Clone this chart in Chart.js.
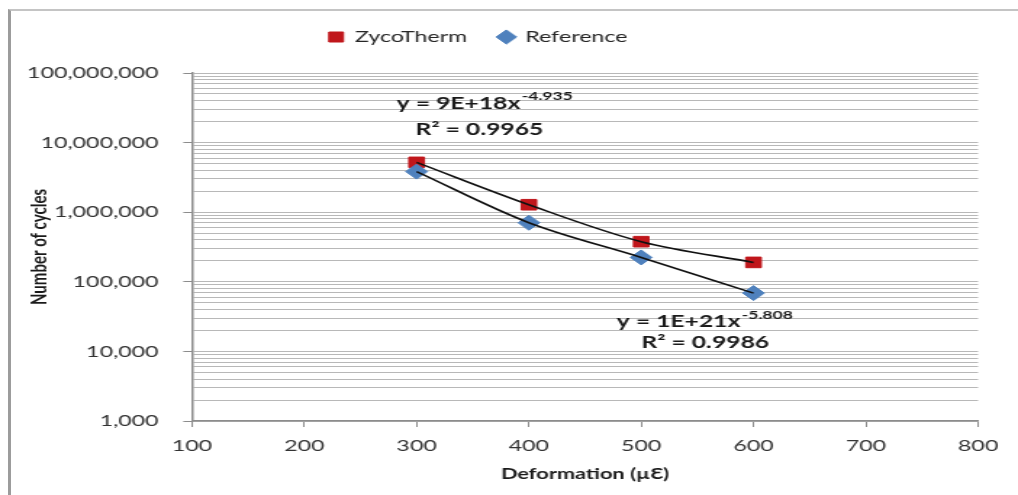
<!DOCTYPE html>
<html>
<head>
<meta charset="utf-8">
<title>Number of cycles vs deformation</title>
<script src="https://cdn.jsdelivr.net/npm/chart.js@4.4.1/dist/chart.umd.min.js"></script>
<style>
html, body { margin: 0; padding: 0; background: #fff; }
#wrap { position: relative; width: 1018px; height: 495px; overflow: hidden; }
#frame { position: absolute; left: 8px; top: 9px; width: 1100px; height: 600px;
         border-left: 3px solid #9c9c9c; border-top: 2px solid #c4c4c4; }
/* the source picture is stretched sideways, so the canvas is drawn narrow and scaled up */
#chart { position: absolute; left: 0; top: 0; width: 1018px !important; height: 495px !important; }
</style>
</head>
<body>
<div id="wrap">
  <div id="frame"></div>
  <canvas id="chart" width="702" height="495" style="width:1018px;height:495px"></canvas>
</div>
<script>
// DATA
var deformation = [300, 400, 500, 600];
var zycoCycles = [5200000, 1280000, 377000, 190000];
var refCycles = [3830000, 706000, 224000, 68800];

var xTicks = [100, 200, 300, 400, 500, 600, 700, 800];
var yMajor = [1000, 10000, 100000, 1000000, 10000000, 100000000];

// trendline equations (text + where they sit, in data units)
var eqText = ['y = 9E+18x', 'R\u00B2 = 0.9965', 'y = 1E+21x', 'R\u00B2 = 0.9986'];
var eqSup = ['-4.935', '', '-5.808', ''];
var eqX = [360, 356, 556, 557];
var eqY = [36400000, 15400000, 26500, 13200];

function toPoints(xs, ys) {
  var out = [];
  for (var i = 0; i < xs.length; i++) out.push({x: xs[i], y: ys[i]});
  return out;
}

// log axis: major lines at powers of ten, minor lines at 2..9
function logTicks() {
  var t = [];
  for (var i = 0; i < yMajor.length; i++) {
    t.push({value: yMajor[i], major: true});
    if (i < yMajor.length - 1) {
      for (var k = 2; k <= 9; k++) t.push({value: yMajor[i] * k, major: false});
    }
  }
  return t;
}

function withCommas(v) {
  return String(Math.round(v)).replace(/\B(?=(\d{3})+(?!\d))/g, ',');
}

// EQUATION LABELS
var eqPlugin = {
  id: 'eqLabels',
  afterDatasetsDraw: function(chart) {
    var ctx = chart.ctx;
    var xs = chart.scales.x, ys = chart.scales.y;
    ctx.save();
    ctx.fillStyle = '#1a1a1a';
    ctx.textBaseline = 'middle';
    ctx.textAlign = 'left';
    for (var i = 0; i < eqText.length; i++) {
      var cx = xs.getPixelForValue(eqX[i]);
      var cy = ys.getPixelForValue(eqY[i]);
      ctx.font = 'bold 17px Lato';
      var w1 = ctx.measureText(eqText[i]).width;
      ctx.font = 'bold 12px Lato';
      var w2 = eqSup[i] ? ctx.measureText(eqSup[i]).width : 0;
      var x0 = cx - (w1 + w2) / 2;
      ctx.font = 'bold 17px Lato';
      ctx.fillText(eqText[i], x0, cy);
      if (eqSup[i]) {
        ctx.font = 'bold 12px Lato';
        ctx.fillText(eqSup[i], x0 + w1 + 1, cy - 7);
      }
    }
    ctx.restore();
  }
};

// LEGEND SPACING - more room under the legend, legend nudged a bit left
var legendGap = {
  id: 'legendGap',
  beforeLayout: function(chart) {
    var lg = chart.legend;
    if (lg && !lg._gapDone) {
      var fit = lg.fit;
      lg.fit = function() {
        fit.call(this);
        this.height += 18;
      };
      lg._gapDone = true;
    }
  },
  afterLayout: function(chart) {
    if (chart.legend) chart.legend.right -= 15;
  }
};

var zycoRed = '#C0161B';
var refBlue = '#4F81BD';

new Chart(document.getElementById('chart'), {
  type: 'scatter',
  data: {
    datasets: [
      {
        label: 'ZycoTherm',
        data: toPoints(deformation, zycoCycles),
        pointStyle: 'rect',
        pointRadius: 7.5,
        backgroundColor: zycoRed,
        borderColor: zycoRed,
        borderWidth: 1,
        order: 3
      },
      {
        label: 'Reference',
        data: toPoints(deformation, refCycles),
        pointStyle: 'rectRot',
        pointRadius: 7.5,
        backgroundColor: refBlue,
        borderColor: refBlue,
        borderWidth: 1,
        order: 2
      },
      {
        label: 'trend ZycoTherm',
        data: toPoints(deformation, zycoCycles),
        showLine: true,
        cubicInterpolationMode: 'monotone',
        borderColor: '#111',
        borderWidth: 1.6,
        pointRadius: 0,
        order: 1
      },
      {
        label: 'trend Reference',
        data: toPoints(deformation, refCycles),
        showLine: true,
        cubicInterpolationMode: 'monotone',
        borderColor: '#111',
        borderWidth: 1.6,
        pointRadius: 0,
        order: 1
      }
    ]
  },
  options: {
    responsive: false,
    devicePixelRatio: 1,
    animation: false,
    layout: { padding: { top: 7, right: 27.5, bottom: 0, left: 0 } },
    plugins: {
      tooltip: { enabled: false },
      legend: {
        position: 'top',
        labels: {
          font: { family: 'Lato', size: 16 },
          color: '#262626',
          usePointStyle: true,
          boxWidth: 10,
          boxHeight: 10,
          padding: 22,
          filter: function(item) { return item.datasetIndex < 2; },
          sort: function(a, b) { return a.datasetIndex - b.datasetIndex; }
        }
      }
    },
    scales: {
      x: {
        type: 'linear',
        min: xTicks[0],
        max: xTicks[xTicks.length - 1],
        afterFit: function(s) { s.height = 74; },
        afterBuildTicks: function(s) {
          s.ticks = xTicks.map(function(v) { return {value: v}; });
        },
        ticks: {
          font: { family: 'Lato', size: 16 },
          color: '#333',
          padding: 9,
          maxRotation: 0,
          autoSkip: false
        },
        grid: { drawOnChartArea: false, drawTicks: true, tickLength: 6, color: '#8c8c8c' },
        border: { display: true, color: '#8c8c8c', width: 1.5 },
        title: {
          display: true,
          text: 'Deformation (\u00B5\u0190)',
          font: { family: 'Lato', size: 15, weight: 'bold' },
          color: '#1a1a1a',
          padding: { top: 0, bottom: 12 }
        }
      },
      y: {
        type: 'logarithmic',
        min: yMajor[0],
        max: yMajor[yMajor.length - 1],
        afterFit: function(s) { s.width = 132.4; },
        afterBuildTicks: function(s) { s.ticks = logTicks(); },
        ticks: {
          font: { family: 'Lato', size: 16 },
          color: '#333',
          padding: 17,
          autoSkip: false,
          callback: function(value, index, ticks) {
            return ticks[index].major ? withCommas(value) : '';
          }
        },
        grid: {
          color: '#b8b8b8',
          lineWidth: 1,
          tickLength: 6,
          tickColor: function(c) { return c.tick && c.tick.major ? '#8c8c8c' : 'rgba(0,0,0,0)'; }
        },
        border: { display: true, color: '#8c8c8c', width: 1.5 },
        title: {
          display: true,
          text: 'Number of cycles',
          font: { family: 'Lato', size: 15, weight: 'bold' },
          color: '#1a1a1a',
          padding: { top: 18, bottom: 0 }
        }
      }
    }
  },
  plugins: [eqPlugin, legendGap]
});
</script>
</body>
</html>
